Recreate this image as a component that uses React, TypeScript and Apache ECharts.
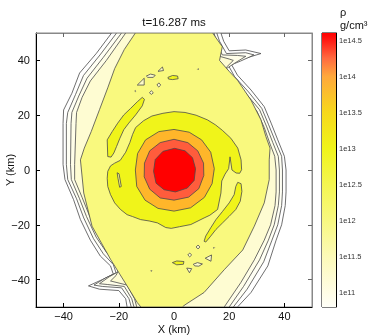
import React, { useEffect, useRef } from 'react';
import * as echarts from 'echarts';

const xTicks = [-40, -20, 0, 20, 40];
const yTicks = [-40, -20, 0, 20, 40];
const cbTicks = [11, 11.5, 12, 12.5, 13, 13.5, 14, 14.5];
const cbStops = [10.8, 11, 11.5, 12, 12.5, 13, 13.5, 14, 14.25, 14.5, 14.6];
const cbColors = ['#fffff8', '#fffde6', '#fcfab8', '#f8f880', '#f4f650', '#f0f41a', '#f7d81c', '#ffa83c', '#ff6a40', '#ff1a14', '#ff0000'];

// contour outlines (km), outermost to innermost
const c0 = [[-22.6,50],[17,50],[18,47],[20,43.5],[26,43.8],[31.5,42.5],[25,40.5],[20.6,38.9],[23,34.6],[27.9,29.2],[32.7,23.1],[35.2,17.1],[37.6,11],[40,5],[40.6,0],[40.6,-8],[40.3,-13],[39,-20],[37,-25.6],[34,-35],[27.9,-44.7],[23,-50],[-17,-50],[-17.5,-47],[-20,-44],[-27,-43.5],[-31,-42.3],[-26,-40],[-22,-38],[-23,-35],[-26.7,-31.4],[-30.3,-25.6],[-33.9,-18.1],[-36.4,-10.8],[-39.5,-3.5],[-40.2,2],[-40.2,17],[-40,21.9],[-37,28],[-34.2,35.4],[-28.1,42.6]];
const c1 = [[-20.8,50],[15.5,50],[16.5,47],[19,42.5],[26,42.8],[29,42],[24,39.7],[19.8,38],[22,34],[27,28.5],[31.8,22.5],[34.3,16.5],[36.7,10.5],[39,5],[39.3,0],[39.3,-8],[39,-13],[37.6,-20],[35.5,-25.6],[32.5,-33.5],[26.5,-43.5],[21.5,-50],[-15.5,-50],[-16.3,-47],[-19,-43],[-26,-42.5],[-29,-42],[-25,-39.5],[-21,-37.5],[-22,-34.5],[-25.6,-30.6],[-29.2,-25],[-32.7,-17.5],[-35.3,-10.5],[-38.5,-3.5],[-39,2],[-39,17],[-38.5,21],[-35.7,27.5],[-32.8,34.5],[-26.8,42]];
const c2 = [[-19,50],[14.5,50],[15.5,46.5],[17.5,42],[23,41.8],[26,41.5],[22,39],[19,37],[21,33.5],[26,28],[31,22],[33.5,16],[35.8,10],[37.8,5],[38.2,0],[38.2,-8],[37.8,-13],[36.3,-20],[34.2,-25.6],[31,-32.8],[25.2,-42.5],[20,-50],[-14.5,-50],[-15.3,-47],[-18,-42.5],[-24,-41.8],[-27,-41.5],[-23.5,-39],[-20,-37],[-21,-34],[-24.5,-30],[-28.2,-24.5],[-31.7,-17],[-34.3,-10.3],[-37.2,-3.5],[-37.5,2],[-37.3,17],[-37,21],[-34.5,27],[-31.5,33.5],[-25.7,41]];
const c3 = [[-17.5,50],[13.5,50],[14.5,46],[16.5,41.5],[20,40.5],[21.5,40],[19,37.5],[18.5,36],[20.5,33],[25,27.5],[30,21.5],[32.7,15.5],[34.8,9.5],[36.5,5],[37,0],[37,-8],[36.6,-13],[35,-20],[32.7,-25.6],[29.1,-32.8],[24.2,-41.1],[18.2,-50],[-13.5,-50],[-14.3,-47],[-17,-42],[-21,-41],[-23,-40.5],[-21,-38.5],[-19.4,-35],[-20,-33],[-23.5,-29.5],[-27.2,-24],[-30.7,-16.5],[-33.3,-10],[-36,-3.5],[-36,2],[-35.5,17],[-35.3,21],[-33.3,26.5],[-30.3,32.5],[-24.5,40]];
const pale = [[-14,50],[14,50],[17.5,45],[16.5,40],[20,36],[23,32.8],[27.9,25.5],[31.5,18.3],[33.3,12.2],[34.8,8],[34.5,3.7],[34.5,-3.5],[32.7,-12],[29.1,-20.5],[24.9,-29.2],[18.2,-36.4],[10.9,-44.7],[4,-49.2],[3,-50],[-12,-50],[-13.3,-48.4],[-17,-42.3],[-23,-32.6],[-29.7,-20.5],[-32.7,-8.4],[-33.9,3.7],[-32.5,8],[-30,14],[-27,22],[-24,30],[-21.5,37],[-18,44]];
const paleIslands = [
  [[-13.3,31],[-10.8,33.5],[-10.8,31]],
  [[-10,34.3],[-8.5,35],[-6.8,34.6],[-7.5,33.8],[-9.5,33.8]],
  [[-5.8,36],[-4.2,37.6],[-3.8,36.3]],
  [[-6.2,31],[-5.5,31.8],[-4.8,31],[-5.5,30.3]],
  [[-8.9,28.2],[-8.2,28.9],[-7.5,28.2],[-8.2,27.6]],
  [[-14.2,28.8],[-14,29],[-13.8,28.8],[-14,28.6]],
  [[8.5,36.8],[8.7,37],[8.9,36.8],[8.7,36.6]],
  [[11.3,-32.2],[13.6,-31],[13.4,-33.3]],
  [[7,-34.4],[8.5,-33.8],[10.3,-34.3],[9,-35.1],[7.5,-35]],
  [[4.6,-35.8],[6.4,-36],[5.6,-37.5]],
  [[5,-31],[5.7,-30.3],[6.4,-31],[5.7,-31.7]],
  [[8,-28.1],[8.7,-27.4],[9.4,-28.1],[8.7,-28.8]],
  [[14.3,-28.4],[14.5,-28.2],[14.7,-28.4],[14.5,-28.6]],
  [[-8.4,-36.8],[-8.2,-36.6],[-8,-36.8],[-8.2,-37]],
];
const brightMain = [[-13.9,15.5],[-11,18],[-8,19.7],[-4,20.7],[0,21.3],[4,21],[8,20],[12.1,18.3],[15,16.5],[17.5,14.5],[20.6,11.6],[23.1,8],[24.3,3.7],[24.5,0.1],[23.8,-1.2],[22.5,-1.1],[21,0],[20.3,4.8],[19.8,0.5],[18.5,-1.5],[17.3,-4],[17,-8.4],[15.8,-14.4],[13,-16.5],[10.9,-17.5],[6.1,-19.9],[2,-20.7],[-1,-21.3],[-3,-21],[-6,-19.3],[-9,-18.6],[-12.1,-18.1],[-15,-17],[-17,-16.3],[-19.4,-14.4],[-21.5,-12],[-23,-9],[-24,-6],[-24.2,-3],[-24,-0.5],[-23,1.5],[-21.5,2.5],[-19.5,3.5],[-17.5,6.5],[-16,10],[-15,13]];
const brightUpper = [[-24,4.9],[-24.2,11],[-22.4,14],[-20.4,17.1],[-18.2,20.1],[-15.7,22.5],[-13.3,24.9],[-11.5,26.5],[-10.7,25.8],[-11.5,23.4],[-13.9,20.1],[-16.4,17.1],[-18.2,14.7],[-19.6,11.6],[-20.8,8.6],[-21.8,6.2],[-22.8,4.7]];
const brightLower = [[10.9,-26],[11.5,-24.1],[13.3,-21.1],[15.2,-18.1],[17.6,-15.1],[20,-12],[21.8,-9],[22.4,-6],[23.1,-4.5],[24.3,-5],[24.6,-7.8],[24,-11.4],[22.4,-14.4],[20,-16.9],[17.6,-19.3],[15.2,-21.7],[13.1,-24.4],[11.5,-26.3]];
const brightSmall = [
  [[-2.2,33.8],[-0.5,34.5],[1.3,34.3],[1.5,33.3],[-0.5,33],[-2,33.2]],
  [[-0.6,-33.8],[1,-33.2],[3.6,-33.4],[3.4,-34.4],[1,-34.6]],
];
const brightHoles = [[[-20.6,-1],[-19.9,-1.4],[-19.1,-6],[-19.7,-6.3],[-20.3,-3]]];
const orange = [[0,14.8],[5.5,13.8],[10,11],[13.3,6.5],[14.6,0.5],[13.8,-5],[11,-10],[6,-13.8],[0,-15],[-5.8,-14],[-10.5,-11],[-13.5,-6],[-14,0],[-13.2,6],[-10.3,11],[-5.5,14]];
const redOrange = [[0,11.2],[5,10],[8.6,7],[10.7,2.5],[10.8,-2],[9,-6.8],[5.3,-9.9],[0,-11],[-5,-10.2],[-8.8,-7],[-10.8,-2.5],[-10.7,2.5],[-8.8,7],[-5,10]];
const red = [[0.2,7.9],[4,7],[6.7,4.5],[7.8,0.5],[7.3,-3.8],[4.8,-6.6],[0.5,-8],[-3.6,-7.2],[-6.5,-4.8],[-7.4,-0.5],[-6.8,3.8],[-4,6.8]];

const FONT = '"Liberation Sans", Arial, Helvetica, sans-serif';
const LINE = '#4a4a4a';

function polySeries(pts: number[][], fill: string, lw = 0.8) {
  return {
    type: 'custom',
    coordinateSystem: 'cartesian2d',
    xAxisIndex: 0,
    yAxisIndex: 0,
    clip: true,
    silent: true,
    data: pts,
    renderItem: (params: any, api: any) => {
      if (params.dataIndex !== 0) return null;
      return {
        type: 'polygon',
        shape: { points: pts.map((p) => api.coord(p)) },
        style: { fill, stroke: LINE, lineWidth: lw },
      };
    },
  };
}

const fmtNum = (v: number) => (v < 0 ? '\u2212' + Math.abs(v) : String(v));

export default function App() {
  const ref = useRef<HTMLDivElement>(null);
  useEffect(() => {
    if (!ref.current) return;
    const chart = echarts.init(ref.current, undefined, { renderer: 'svg' });
    const lo = cbStops[0];
    const hi = cbStops[cbStops.length - 1];
    const series: any[] = [
      polySeries(c0, '#ffffff'),
      polySeries(c1, '#fffff4'),
      polySeries(c2, '#fffee8'),
      polySeries(c3, '#fefcd2'),
      polySeries(pale, '#f9f97e'),
      ...paleIslands.map((p) => polySeries(p, '#fdfbc8')),
      polySeries(brightMain, '#f0f41a'),
      polySeries(brightUpper, '#f0f41a'),
      polySeries(brightLower, '#f0f41a'),
      ...brightSmall.map((p) => polySeries(p, '#f0f41a')),
      ...brightHoles.map((p) => polySeries(p, '#f9f97e')),
      polySeries(orange, '#ffb62a'),
      polySeries(redOrange, '#ff5c3c'),
      polySeries(red, '#ff0000'),
      {
        type: 'custom',
        coordinateSystem: 'cartesian2d',
        xAxisIndex: 2,
        yAxisIndex: 2,
        silent: true,
        data: [[0, lo]],
        renderItem: (params: any, api: any) => {
          const a = api.coord([0, hi]);
          const b = api.coord([1, lo]);
          return {
            type: 'rect',
            shape: { x: a[0], y: a[1], width: b[0] - a[0], height: b[1] - a[1] },
            style: {
              fill: new echarts.graphic.LinearGradient(0, 1, 0, 0,
                cbStops.map((v, i) => ({ offset: (v - lo) / (hi - lo), color: cbColors[i] }))),
            },
          };
        },
      },
    ];
    chart.setOption({
      animation: false,
      grid: [
        { left: 36, top: 33, width: 276, height: 274, show: true, borderColor: '#888', borderWidth: 1, backgroundColor: '#fff', containLabel: false, outerBoundsMode: 'none' },
        { left: 322, top: 33, width: 14, height: 274, show: true, borderColor: '#000', borderWidth: 1, containLabel: false, outerBoundsMode: 'none' },
      ],
      xAxis: [
        {
          gridIndex: 0, type: 'value', min: -50, max: 50, position: 'bottom',
          axisLine: { onZero: false, lineStyle: { color: '#000', width: 1 } },
          axisTick: { inside: true, length: 4, customValues: xTicks, lineStyle: { color: '#000' } },
          axisLabel: { customValues: xTicks, formatter: fmtNum, fontSize: 11, color: '#111', margin: 3, fontFamily: FONT },
          splitLine: { show: false },
          name: 'X (km)', nameLocation: 'middle', nameGap: 16, nameMoveOverlap: false,
          nameTextStyle: { fontSize: 11, color: '#111', fontFamily: FONT },
        },
        {
          gridIndex: 0, type: 'value', min: -50, max: 50, position: 'top',
          axisLine: { onZero: false, lineStyle: { color: '#888' } },
          axisTick: { inside: true, length: 4, customValues: xTicks, lineStyle: { color: '#666' } },
          axisLabel: { show: false }, splitLine: { show: false },
        },
        { gridIndex: 1, type: 'value', min: 0, max: 1, show: false },
      ],
      yAxis: [
        {
          gridIndex: 0, type: 'value', min: -50, max: 50, position: 'left',
          axisLine: { onZero: false, lineStyle: { color: '#000', width: 1 } },
          axisTick: { inside: true, length: 4, customValues: yTicks, lineStyle: { color: '#000' } },
          axisLabel: { customValues: yTicks, formatter: fmtNum, fontSize: 11, color: '#111', margin: 6, fontFamily: FONT },
          splitLine: { show: false },
          name: 'Y (km)', nameLocation: 'middle', nameGap: 21, nameRotate: 90, nameMoveOverlap: false,
          nameTextStyle: { fontSize: 11, color: '#111', fontFamily: FONT },
        },
        {
          gridIndex: 0, type: 'value', min: -50, max: 50, position: 'right',
          axisLine: { onZero: false, lineStyle: { color: '#888' } },
          axisTick: { inside: true, length: 4, customValues: yTicks, lineStyle: { color: '#666' } },
          axisLabel: { show: false }, splitLine: { show: false },
        },
        {
          gridIndex: 1, type: 'value', min: lo, max: hi, position: 'right',
          axisLine: { show: true, onZero: false, lineStyle: { color: '#000' } },
          axisTick: { inside: true, length: 3, customValues: cbTicks, lineStyle: { color: '#333' } },
          axisLabel: { customValues: cbTicks, formatter: (v: number) => '1e' + v, fontSize: 7.5, color: '#333', margin: 3, fontFamily: FONT },
          splitLine: { show: false },
        },
      ],
      graphic: [
        { type: 'text', x: 174, y: 22, style: { text: 't=16.287 ms', font: `11.5px ${FONT}`, fill: '#111', align: 'center', verticalAlign: 'middle' } },
        { type: 'text', x: 343, y: 12, style: { text: '\u03c1', font: `11px ${FONT}`, fill: '#111', align: 'center', verticalAlign: 'middle' } },
        { type: 'text', x: 340, y: 25, style: { text: 'g/cm\u00b3', font: `11px ${FONT}`, fill: '#111', align: 'left', verticalAlign: 'middle' } },
      ],
      series,
    });
    return () => chart.dispose();
  }, []);
  return <div ref={ref} style={{ position: 'fixed', left: 0, top: 0, width: 374, height: 335 }} />;
}
